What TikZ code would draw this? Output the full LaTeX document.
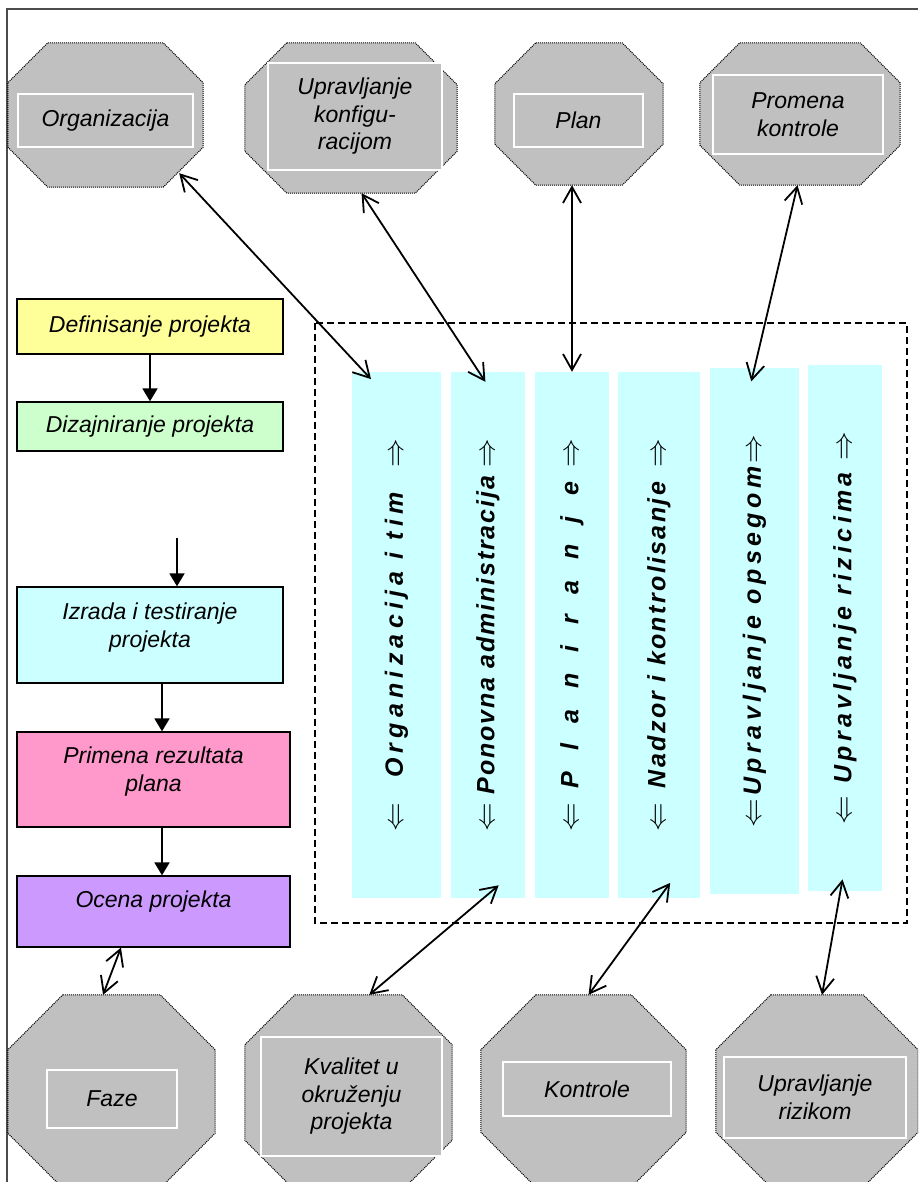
\documentclass[tikz,border=0pt]{standalone}
\usepackage{fontspec}
\setmainfont{Liberation Sans}
\usetikzlibrary{arrows.meta,calc}

\definecolor{octgray}{HTML}{C0C0C0}
\definecolor{colcyan}{HTML}{CCFFFF}
\definecolor{defyellow}{HTML}{FFFF99}
\definecolor{dizgreen}{HTML}{CCFFCC}
\definecolor{primpink}{HTML}{FF99CC}
\definecolor{ocenaviolet}{HTML}{CC99FF}

\newcommand{\dglabel}{\fontsize{23}{27.5}\selectfont\itshape}
\newcommand{\dgcol}{\fontsize{25}{30}\selectfont\bfseries\itshape}
\newcommand{\coltitle}[2]{\makebox[392pt]{\scalebox{1.15}{$\Leftarrow$}\hfill{\addfontfeatures{LetterSpace=#1}#2}\hfill\scalebox{1.15}{$\Rightarrow$}}}
% octagon: name, x, y, width, height, chamfer
\newcommand{\octagon}[6]{%
  \node[octbox, minimum width=#4pt, minimum height=#5pt] (#1) at (#2,#3) {};
  \draw[octline] ($(#1.north west)+(#6,0)$) -- ($(#1.north east)+(-#6,0)$) -- ($(#1.north east)+(0,#6)$) -- ($(#1.south east)+(0,-#6)$) -- ($(#1.south east)+(-#6,0)$) -- ($(#1.south west)+(#6,0)$) -- ($(#1.south west)+(0,-#6)$) -- ($(#1.north west)+(0,#6)$) -- cycle;}

\tikzset{
  octbox/.style={rectangle, draw=none, inner sep=0pt},
  octline/.style={fill=octgray, draw=black, line width=1pt, dash pattern=on 1pt off 1pt},
  inbox/.style={draw=white, line width=1.6pt, fill=octgray, font=\dglabel, align=center, inner sep=0pt},
  flowbox/.style={draw=black, line width=1.3pt, font=\dglabel, align=center, inner sep=0pt},
  colbar/.style={fill=colcyan, inner sep=0pt, minimum height=526pt},
  coltxt/.style={rotate=90, font=\dgcol, inner sep=0pt},
  link/.style={line width=1.8pt, {Straight Barb[length=16pt,width=18pt]}-{Straight Barb[length=16pt,width=18pt]}},
  flowarrow/.style={line width=1.8pt, -{Triangle[length=13pt,width=15pt]}},
  dashbox/.style={draw=black, line width=1.3pt, dash pattern=on 7pt off 4pt},
  frameline/.style={draw=black!70, line width=1.6pt}
}

\begin{document}
\begin{tikzpicture}[x=1pt,y=1pt,yscale=-1,xscale=1]
\useasboundingbox (0,0) rectangle (918,1182);
\clip (0,0) rectangle (918,1182);

%Frame
\draw[frameline] (7,1182) -- (7,9) -- (918,9);

%Shape: dashed area round the columns
\draw[dashbox] (315,323) rectangle (907,923);

%Columns
\node[colbar, minimum width=89pt] (c1) at (396.5,635) {};
\node[colbar, minimum width=74pt] (c2) at (488,635) {};
\node[colbar, minimum width=74pt] (c3) at (572,635) {};
\node[colbar, minimum width=82pt] (c4) at (659,635) {};
\node[colbar, minimum width=89pt] (c5) at (754.5,631) {};
\node[colbar, minimum width=74pt] (c6) at (845,628) {};

% Text Node
\node[coltxt] (c1t) at (c1) {\coltitle{21}{Organizacija i tim}};
\node[coltxt] (c2t) at (c2) {\coltitle{7.5}{Ponovna administracija}};
\node[coltxt] (c3t) at (c3) {\coltitle{83}{Planiranje}};
\node[coltxt] (c4t) at (c4) {\coltitle{9.5}{Nadzor i kontrolisanje}};
\node[coltxt] (c5t) at (c5) {\coltitle{18}{Upravljanje opsegom}};
\node[coltxt] (c6t) at (c6) {\coltitle{17}{Upravljanje rizicima}};

%Shape: Octagon
\octagon{org}{105.5}{115}{195}{144}{40}
\octagon{konf}{351}{118}{212}{150}{42}
\octagon{plan}{579}{114}{168}{142}{41}
\octagon{prom}{800}{114}{200}{142}{40}
\octagon{faze}{111.5}{1091.5}{207}{193}{55}
\octagon{kval}{348.5}{1092.5}{207}{195}{50}
\octagon{kontr}{583.5}{1091}{205}{192}{55}
\octagon{rizik}{817}{1091}{202}{192}{55}

% Text Node
\node[inbox, minimum width=175pt, minimum height=53pt] (orgT) at (105.5,120.5) {Organizacija};
\node[inbox, minimum width=174pt, minimum height=107pt] (konfT) at (355,116.5) {Upravljanje\\konfigu-\\racijom};
\node[inbox, minimum width=129pt, minimum height=53pt] (planT) at (578.5,120.5) {Plan};
\node[inbox, minimum width=170pt, minimum height=79pt] (promT) at (798,114.5) {Promena\\kontrole};
\node[inbox, minimum width=130pt, minimum height=58pt] (fazeT) at (112,1099) {Faze};
\node[inbox, minimum width=181pt, minimum height=119pt] (kvalT) at (351.5,1096.5) {Kvalitet u\\okruženju\\projekta};
\node[inbox, minimum width=168pt, minimum height=54pt] (kontrT) at (587,1089) {Kontrole};
\node[inbox, minimum width=182pt, minimum height=81pt] (rizikT) at (815,1097.5) {Upravljanje\\rizikom};

%Shape: Rectangle
\node[flowbox, fill=defyellow, minimum width=266pt, minimum height=55pt] (def) at (150,326.5) {Definisanje projekta};
\node[flowbox, fill=dizgreen, minimum width=266pt, minimum height=49pt] (diz) at (150,426.5) {Dizajniranje projekta};
\node[flowbox, fill=colcyan, minimum width=266pt, minimum height=96pt, text depth=20pt] (izr) at (150,635) {Izrada i testiranje\\projekta};
\node[flowbox, fill=primpink, minimum width=273pt, minimum height=95pt, text depth=21pt] (prim) at (153.5,779.5) {Primena rezultata\\plana};
\node[flowbox, fill=ocenaviolet, minimum width=273pt, minimum height=71pt, text depth=24pt] (ocena) at (153.5,911.5) {Ocena projekta};

%Straight Lines
\coordinate (izrIn) at (177,538);
\coordinate (flowx) at (162,0);
\draw[flowarrow] (def) -- (diz);
\draw[flowarrow] (izrIn) -- (izrIn |- izr.north);
\draw[flowarrow] (flowx |- izr.south) -- (flowx |- prim.north);
\draw[flowarrow] (flowx |- prim.south) -- (flowx |- ocena.north);

%Straight Lines
\coordinate (orgEdge) at ($(org.south east)+(-24,-14)$);
\draw[link, shorten >=-10pt] (orgEdge) -- (c1.97);
\draw[link, shorten >=-12pt] (konf.278) -- (c2.92);
\draw[link] (c3.north |- plan.south) -- (c3.north);
\draw[link, shorten >=-14pt] (prom.268) -- (c5.90);
\draw[link] (faze.95) -- (ocena.228);
\draw[link, shorten >=-20pt] (kval.78) -- (c2.269);
\draw[link, shorten >=-19pt] (kontr.87) -- (c4.270);
\draw[link, shorten >=-12pt] (rizik.87) -- (c6.269);

\end{tikzpicture}
\end{document}
